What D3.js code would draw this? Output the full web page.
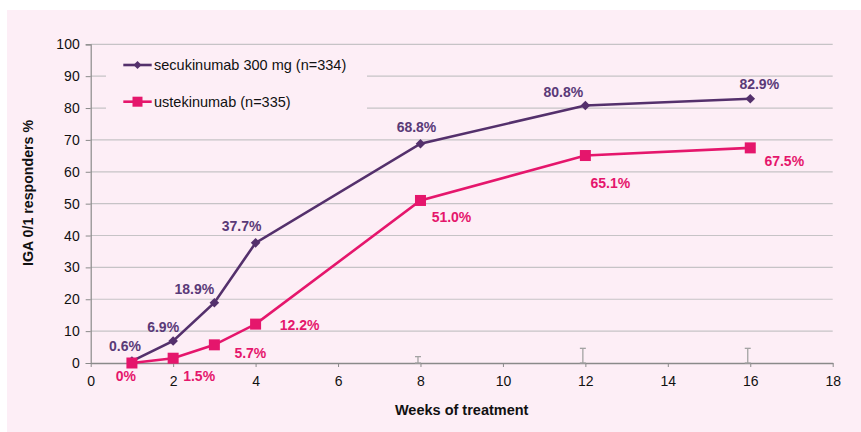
<!DOCTYPE html>
<html><head><meta charset="utf-8">
<script src="https://cdn.jsdelivr.net/npm/d3@7"></script>
<style>body{margin:0;background:#fff}svg{display:block}text{font-family:"Liberation Sans",Arial,sans-serif}</style>
</head><body><svg id="c" width="861" height="432"></svg>
<script>
const weeks = [1, 2, 3, 4, 8, 12, 16];
const secukinumab = [0.6, 6.9, 18.9, 37.7, 68.8, 80.8, 82.9];
const ustekinumab = [0, 1.5, 5.7, 12.2, 51.0, 65.1, 67.5];
const secLabels = ["0.6%", "6.9%", "18.9%", "37.7%", "68.8%", "80.8%", "82.9%"];
const ustLabels = ["0%", "1.5%", "5.7%", "12.2%", "51.0%", "65.1%", "67.5%"];
const errWeeks = [8, 12, 16];
const errValues = [2.0, 4.6, 4.6];
const xTicks = [0, 2, 4, 6, 8, 10, 12, 14, 16, 18];
const yTicks = [0, 10, 20, 30, 40, 50, 60, 70, 80, 90, 100];
const seriesNames = ["secukinumab 300 mg (n=334)", "ustekinumab (n=335)"];

const PURPLE = "#54306c", PINK = "#e5166c", BG = "#fdeef6";
const secOff = [[-7,-15],[-10,-14],[-20,-14],[-14,-17],[-4,-17],[-22,-13],[9,-15]];
const ustOff = [[-6,13],[26,18],[36,8],[44,1],[31,17],[25,27],[34,13]];

const svg = d3.select("#c");
svg.append("rect").attr("x",7).attr("y",10).attr("width",854).attr("height",422).attr("fill",BG);

const x = d3.scaleLinear().domain([0,18]).range([90.7,832.7]);
const y = d3.scaleLinear().domain([0,100]).range([363,44.3]);

// gridlines
svg.append("g").selectAll("line").data(yTicks.filter(d=>d>0)).join("line")
  .attr("x1",x(0)).attr("x2",x(18)).attr("y1",d=>y(d)).attr("y2",d=>y(d))
  .attr("stroke","#c6c3c6").attr("stroke-width",1.2);

// y axis
const ya = svg.append("g").attr("transform",`translate(${x(0)},0)`)
  .call(d3.axisLeft(y).tickValues(yTicks).tickSize(5).tickPadding(6));
ya.select(".domain").attr("stroke","#8a8a8a").attr("stroke-width",1.2);
ya.selectAll(".tick line").attr("stroke","#8a8a8a");
ya.selectAll("text").attr("font-size",14).attr("fill","#111").style("font-family","Liberation Sans, Arial, sans-serif");

// x axis
const xa = svg.append("g").attr("transform",`translate(0,${y(0)})`)
  .call(d3.axisBottom(x).tickValues(xTicks).tickSize(4).tickPadding(9).tickSizeOuter(0));
xa.select(".domain").attr("stroke","#8a8a8a").attr("stroke-width",1.5);
xa.selectAll(".tick line").attr("stroke","#8a8a8a");
xa.selectAll("text").attr("font-size",14).attr("fill","#111").style("font-family","Liberation Sans, Arial, sans-serif");

// error bars
const eb = svg.append("g").attr("stroke","#a3a3a3").attr("stroke-width",1.3);
errWeeks.forEach((w,i)=>{
  const cx = x(w)-2.5;
  eb.append("line").attr("x1",cx).attr("x2",cx).attr("y1",y(0)).attr("y2",y(errValues[i]));
  eb.append("line").attr("x1",cx-3).attr("x2",cx+3).attr("y1",y(errValues[i])).attr("y2",y(errValues[i]));
  eb.append("line").attr("x1",cx-3).attr("x2",cx+3).attr("y1",y(0)).attr("y2",y(0));
});

// legend box (covers gridlines)
svg.append("rect").attr("x",106).attr("y",50).attr("width",261).attr("height",70).attr("fill",BG);

const line = d3.line().x(d=>x(d[0])).y(d=>y(d[1]));
const secData = weeks.map((w,i)=>[w,secukinumab[i]]);
const ustData = weeks.map((w,i)=>[w,ustekinumab[i]]);

svg.append("path").datum(ustData).attr("d",line).attr("fill","none").attr("stroke",PINK).attr("stroke-width",2.6);
svg.append("path").datum(secData).attr("d",line).attr("fill","none").attr("stroke",PURPLE).attr("stroke-width",2.6);

svg.append("g").selectAll("rect").data(secData).join("rect")
  .attr("x",-3.4).attr("y",-3.4).attr("width",6.8).attr("height",6.8)
  .attr("transform",d=>`translate(${x(d[0])},${y(d[1])}) rotate(45)`).attr("fill",PURPLE);
svg.append("g").selectAll("rect").data(ustData).join("rect")
  .attr("x",d=>x(d[0])-5.5).attr("y",d=>y(d[1])-5.5).attr("width",11).attr("height",11).attr("fill",PINK);

// value labels
svg.append("g").selectAll("text").data(secData).join("text")
  .attr("x",(d,i)=>x(d[0])+secOff[i][0]).attr("y",(d,i)=>y(d[1])+secOff[i][1])
  .attr("text-anchor","middle").attr("dominant-baseline","central")
  .attr("font-size",14).attr("font-weight","bold").attr("fill","#5a3a78").text((d,i)=>secLabels[i]);
svg.append("g").selectAll("text").data(ustData).join("text")
  .attr("x",(d,i)=>x(d[0])+ustOff[i][0]).attr("y",(d,i)=>y(d[1])+ustOff[i][1])
  .attr("text-anchor","middle").attr("dominant-baseline","central")
  .attr("font-size",14).attr("font-weight","bold").attr("fill",PINK).text((d,i)=>ustLabels[i]);

// legend
const lg = svg.append("g");
[[PURPLE,65,"d"],[PINK,101.7,"s"]].forEach((c,i)=>{
  lg.append("line").attr("x1",123.3).attr("x2",151.7).attr("y1",c[1]).attr("y2",c[1]).attr("stroke",c[0]).attr("stroke-width",2.6);
  if(c[2]==="d") lg.append("rect").attr("x",-2.8).attr("y",-2.8).attr("width",5.6).attr("height",5.6).attr("transform",`translate(137.5,${c[1]}) rotate(45)`).attr("fill",c[0]);
  else lg.append("rect").attr("x",132.5).attr("y",c[1]-5).attr("width",10).attr("height",10).attr("fill",c[0]);
  lg.append("text").attr("x",154).attr("y",c[1]).attr("dominant-baseline","central").attr("font-size",14.5).attr("fill","#111").text(seriesNames[i]);
});

// axis titles
svg.append("text").attr("x",(x(0)+x(18))/2).attr("y",409.5).attr("text-anchor","middle").attr("dominant-baseline","central")
  .attr("font-size",14.5).attr("font-weight","bold").attr("fill","#111").text("Weeks of treatment");
svg.append("text").attr("transform","translate(28,193) rotate(-90)").attr("text-anchor","middle").attr("dominant-baseline","central")
  .attr("font-size",14.2).attr("font-weight","bold").attr("fill","#111").text("IGA 0/1 responders %");
</script></body></html>
